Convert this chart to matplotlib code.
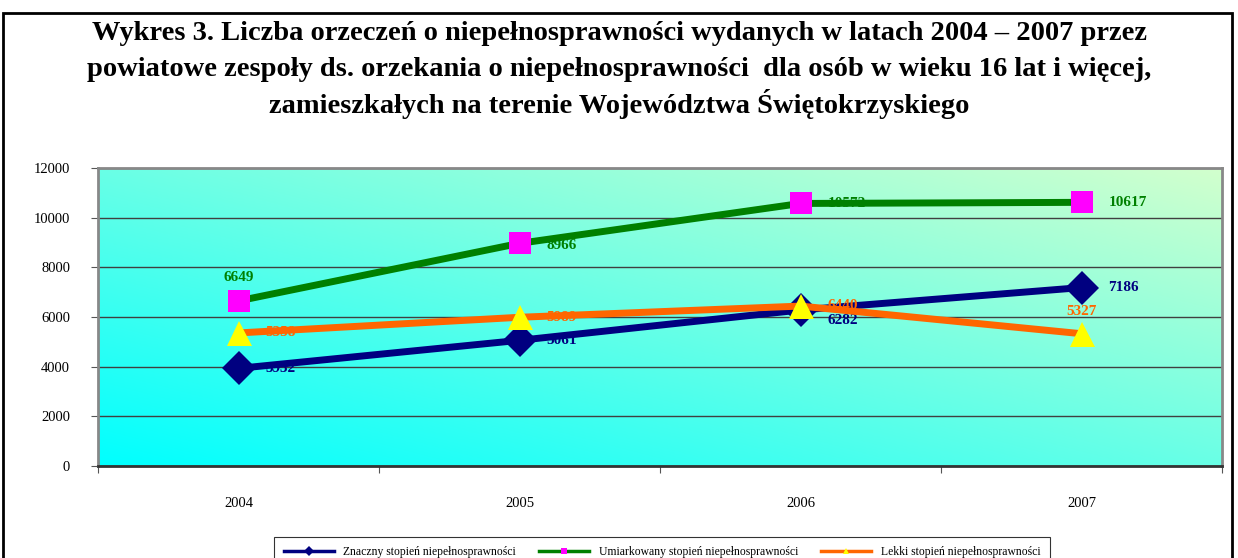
import matplotlib
matplotlib.use('Agg')
import matplotlib.pyplot as plt
from matplotlib.lines import Line2D
from matplotlib.patches import Rectangle
import numpy as np

# data
years = ['2004', '2005', '2006', '2007']
znaczny = [3932, 5061, 6282, 7186]
umiarkowany = [6649, 8966, 10572, 10617]
lekki = [5358, 5989, 6440, 5327]
names = ['Znaczny stopień niepełnosprawności',
         'Umiarkowany stopień niepełnosprawności',
         'Lekki stopień niepełnosprawności']
title_lines = ['Wykres 3. Liczba orzeczeń o niepełnosprawności wydanych w latach 2004 – 2007 przez',
               'powiatowe zespoły ds. orzekania o niepełnosprawności  dla osób w wieku 16 lat i więcej,',
               'zamieszkałych na terenie Województwa Świętokrzyskiego']

serif = 'Liberation Serif'
W, H = 1238, 558
fig = plt.figure(figsize=(W/100, H/100), dpi=100)
ax = fig.add_axes([98/W, 1-466/H, (1222-98)/W, (466-168)/H])

# diagonal gradient: cyan bottom-left -> pale green top-right
u, v = np.meshgrid(np.linspace(0, 1, 300), np.linspace(0, 1, 100))
t = (u + v) / 2
c0 = np.array([0, 255, 255]) / 255
c1 = np.array([210, 255, 205]) / 255
img = c0[None, None, :] * (1 - t[..., None]) + c1[None, None, :] * t[..., None]
ax.imshow(img, extent=[0, 1, 0, 1], transform=ax.transAxes, origin='lower',
          aspect='auto', zorder=0)

x = np.arange(len(years))
ax.set_xlim(-0.5, 3.5)
ax.set_ylim(0, 12000)
ax.set_yticks(range(0, 12001, 2000))
ax.yaxis.grid(True, color='#404040', lw=1)
ax.set_axisbelow(True)
ax.set_xticks(np.arange(-0.5, 3.6, 1))
ax.set_xticklabels([])
ax.set_xticks(x, minor=True)
ax.set_xticklabels(years, minor=True, fontfamily=serif, fontsize=10.5)
ax.tick_params(axis='x', which='minor', length=0, pad=22)
ax.tick_params(axis='x', which='major', length=5, color='#555555')
ax.tick_params(axis='y', length=5, color='#555555', pad=15)
for lbl in ax.get_yticklabels():
    lbl.set_fontfamily(serif)
    lbl.set_fontsize(10.5)
for s in ax.spines.values():
    s.set_color('#888888')
    s.set_linewidth(2)
ax.spines['bottom'].set_color('#333333')

series = [
    (znaczny, '#000080', 'D', '#000080', 17, [(27, 0), (27, 0), (27, -11), (27, 0)]),
    (umiarkowany, '#008000', 's', '#FF00FF', 16, [(0, 23), (27, -2), (27, 0), (27, 0)]),
    (lekki, '#FF6600', '^', '#FFFF00', 18, [(27, 0), (27, 0), (27, 1), (0, 22)]),
]
for k, (vals, col, mk, mcol, ms, offs) in enumerate(series):
    for xi, val, off in zip(x, vals, offs):
        ha = 'left' if off[0] else 'center'
        ax.annotate(str(val), (xi, val), xytext=off, textcoords='offset pixels',
                    ha=ha, va='center', fontfamily=serif, fontweight='bold',
                    fontsize=11, color=col, zorder=3 + k)
    ax.plot(x, vals, color=col, lw=5, zorder=4 + k, solid_capstyle='butt')
    ax.plot(x, vals, ls='none', marker=mk, color=mcol, markersize=ms,
            markeredgewidth=0, zorder=4.5 + k)

for line, yc in zip(title_lines, [34, 70, 104]):
    fig.text(0.5, 1-yc/H, line, ha='center', va='center', fontfamily=serif,
             fontweight='bold', fontsize=20.5)

handles = [Line2D([], [], color=c, lw=2.5, marker=m, markerfacecolor=mc,
                  markeredgewidth=0, markersize=5)
           for (_, c, m, mc, _, _) in series]
leg = fig.legend(handles, names, loc='upper center', bbox_to_anchor=(662/W, 1-531/H),
                 ncol=3, prop={'family': serif, 'size': 8.4}, frameon=True,
                 fancybox=False, edgecolor='black', handlelength=4.3,
                 handletextpad=0.8, columnspacing=2.0, borderpad=0.8)
leg.get_frame().set_linewidth(0.8)

fig.add_artist(Rectangle((3/W, -0.1), (1232-3)/W, 1.1-13/H, fill=False,
                         lw=2, edgecolor='black', transform=fig.transFigure))

fig.savefig('out.png', dpi=100)
